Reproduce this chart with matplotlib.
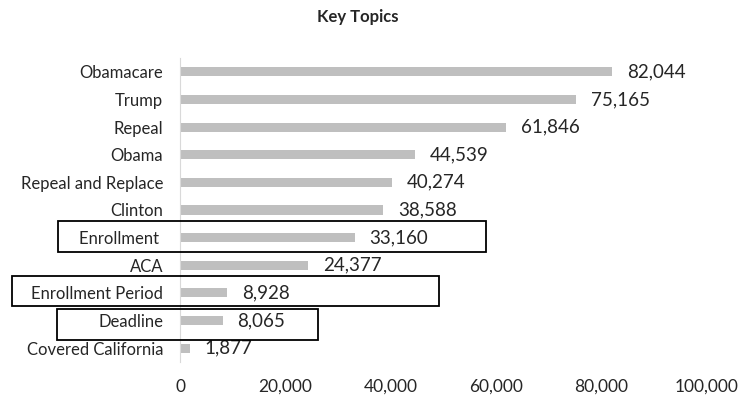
import matplotlib
matplotlib.use("Agg")
import matplotlib.pyplot as plt
from matplotlib.patches import Rectangle
from matplotlib.ticker import FuncFormatter

plt.rcParams['font.family'] = ['Lato', 'DejaVu Sans']

title = "Key Topics"
categories = ["Obamacare", "Trump", "Repeal", "Obama", "Repeal and Replace",
              "Clinton", "Enrollment ", "ACA", "Enrollment Period", "Deadline",
              "Covered California"]
values = [82044, 75165, 61846, 44539, 40274, 38588, 33160, 24377, 8928, 8065, 1877]
x_ticks = [0, 20000, 40000, 60000, 80000, 100000]

W, H = 743, 401
fig = plt.figure(figsize=(W / 100, H / 100), dpi=100)
ax = fig.add_axes([180 / W, 1 - 362 / H, (707 - 180) / W, (362 - 58) / H])

ypos = list(range(len(categories)))
ax.barh(ypos, values, height=0.33, color="#BFBFBF")
ax.set_ylim(len(categories) - 0.5, -0.5)
ax.set_xlim(0, 100000)
ax.set_yticks(ypos)
ax.set_yticklabels(categories, fontsize=12, color="#262626")
ax.set_xticks(x_ticks)
ax.xaxis.set_major_formatter(FuncFormatter(lambda v, p: f"{int(v):,}"))
ax.tick_params(axis="x", length=0, pad=12, labelsize=12.5, labelcolor="#262626")
ax.tick_params(axis="y", length=0, pad=12)
for s in ["top", "right", "bottom"]:
    ax.spines[s].set_visible(False)
ax.spines["left"].set_color("#D9D9D9")
ax.spines["left"].set_linewidth(0.8)

for y, v in zip(ypos, values):
    ax.annotate(f"{v:,}", (v, y), xytext=(10.5, 0), textcoords="offset points",
                va="center", ha="left", fontsize=13.5, color="#262626")

fig.text(358 / W, 1 - 17 / H, title, ha="center", va="center",
         fontsize=12, fontweight="bold", color="#262626")

boxes = [(58, 221, 486, 252), (12, 276, 439, 306), (57, 309, 318, 340)]
for x0, y0, x1, y1 in boxes:
    fig.patches.append(Rectangle((x0 / W, 1 - y1 / H), (x1 - x0) / W, (y1 - y0) / H,
                                 transform=fig.transFigure, fill=False,
                                 edgecolor="black", linewidth=1.3))

fig.savefig("out.png", dpi=100, facecolor="white")
